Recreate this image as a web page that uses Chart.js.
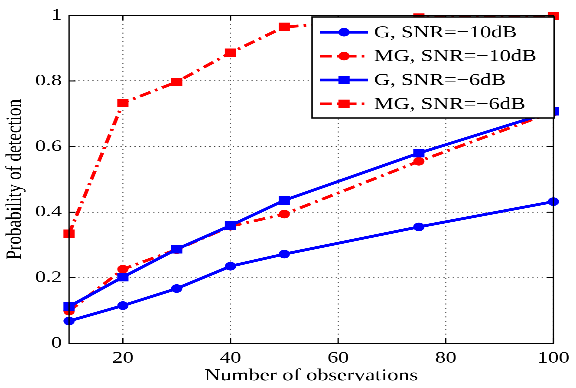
<!DOCTYPE html>
<html>
<head>
<meta charset="utf-8">
<script src="https://cdn.jsdelivr.net/npm/chart.js@4.4.1/dist/chart.umd.min.js"></script>
<style>
  html, body { margin: 0; padding: 0; background: #fff; overflow: hidden; }
  /* the figure is laid out narrow and widened horizontally */
  #frame { position: absolute; left: 0; top: 0; width: 443px; height: 388px;
           transform: scaleX(1.3002); transform-origin: 0 0; }
</style>
</head>
<body>
<div id="frame"><canvas id="pd"></canvas></div>
<script>
// Number of observations on the x axis
const observations = [10, 20, 30, 40, 50, 75, 100];

// Probability of detection for each detector / SNR
const gSnrM10  = [0.068, 0.115, 0.167, 0.235, 0.272, 0.355, 0.432];
const mgSnrM10 = [0.098, 0.226, 0.286, 0.357, 0.394, 0.555, 0.706];
const gSnrM6   = [0.112, 0.202, 0.287, 0.359, 0.436, 0.580, 0.708];
const mgSnrM6  = [0.334, 0.733, 0.797, 0.886, 0.965, 0.993, 0.998];

const seriesNames = ['G, SNR=\u221210dB', 'MG, SNR=\u221210dB', 'G, SNR=\u22126dB', 'MG, SNR=\u22126dB'];

const xTicks = [20, 40, 60, 80, 100];
const yTicks = [0, 0.2, 0.4, 0.6, 0.8, 1];
const yTickLabels = ['0', '0.2', '0.4', '0.6', '0.8', '1'];

const SERIF = '"Liberation Serif", "Times New Roman", serif';
const BLUE = '#0000ff';
const RED = '#ff0000';
const DASHDOT = [9, 4, 2, 4];

function series(label, values, color, style, dashed, order) {
  return {
    label,
    data: observations.map((o, i) => ({ x: o, y: values[i] })),
    borderColor: color,
    backgroundColor: color,
    borderWidth: 2.8,
    borderDash: dashed ? DASHDOT : [],
    pointStyle: style,
    pointRadius: style === 'rect' ? 5.4 : 3.8,
    pointHoverRadius: style === 'rect' ? 5.4 : 3.8,
    pointBackgroundColor: color,
    pointBorderColor: color,
    pointBorderWidth: 1,
    tension: 0,
    clip: false,
    order
  };
}

const datasets = [
  series(seriesNames[0], gSnrM10,  BLUE, 'circle', false, 4),
  series(seriesNames[1], mgSnrM10, RED,  'circle', true,  3),
  series(seriesNames[2], gSnrM6,   BLUE, 'rect',   false, 2),
  series(seriesNames[3], mgSnrM6,  RED,  'rect',   true,  1)
];

// Box frame, inward tick marks and the boxed legend in the upper right
const frameAndLegend = {
  id: 'frameAndLegend',
  afterDraw(chart) {
    const { ctx, chartArea: { left, right, top, bottom }, scales: { x, y } } = chart;
    ctx.save();
    ctx.strokeStyle = '#000';
    ctx.lineWidth = 1;
    ctx.setLineDash([]);
    const seg = (x1, y1, x2, y2) => { ctx.beginPath(); ctx.moveTo(x1, y1); ctx.lineTo(x2, y2); ctx.stroke(); };
    const T = 5;
    xTicks.forEach(v => { const p = x.getPixelForValue(v); seg(p, bottom, p, bottom - T); seg(p, top, p, top + T); });
    yTicks.forEach(v => { const p = y.getPixelForValue(v); seg(left, p, left + T, p); seg(right, p, right - T, p); });
    ctx.strokeRect(left, top, right - left, bottom - top);

    // legend
    const bx = 240, by = 17, bw = 186.2, bh = 101;
    ctx.fillStyle = '#fff';
    ctx.fillRect(bx, by, bw, bh);
    ctx.lineWidth = 1.2;
    ctx.strokeRect(bx, by, bw, bh);
    const x1 = 246.2, x2 = 283, xm = (x1 + x2) / 2, xt = 287.7;
    ctx.font = '17px ' + SERIF;
    ctx.textBaseline = 'middle';
    ctx.textAlign = 'left';
    chart.data.datasets.forEach((ds, i) => {
      const ry = 32.2 + i * 23.9;
      ctx.strokeStyle = ds.borderColor;
      ctx.lineWidth = ds.borderWidth;
      ctx.setLineDash(ds.borderDash);
      seg(x1, ry, x2, ry);
      ctx.setLineDash([]);
      ctx.fillStyle = ds.borderColor;
      ctx.lineWidth = 1;
      Chart.helpers.drawPoint(ctx, { pointStyle: ds.pointStyle, radius: ds.pointRadius, borderWidth: 1, rotation: 0 }, xm, ry);
      ctx.fill();
      ctx.fillStyle = '#000';
      ctx.fillText(ds.label, xt, ry + 0.5);
    });
    ctx.restore();
  }
};

new Chart(document.getElementById('pd'), {
  type: 'line',
  data: { datasets },
  options: {
    responsive: true,
    maintainAspectRatio: false,
    animation: false,
    devicePixelRatio: 3,
    layout: { padding: { left: 0, right: 12.8, top: 10, bottom: 0 } },
    plugins: { legend: { display: false }, tooltip: { enabled: false } },
    scales: {
      x: {
        type: 'linear',
        min: 10, max: 100,
        afterBuildTicks: s => { s.ticks = xTicks.map(v => ({ value: v })); },
        afterFit: s => { s.height = 44.7; },
        grid: { display: true, color: 'rgba(0,0,0,0.75)', lineWidth: 0.8, drawTicks: false },
        border: { display: false, dash: [1, 3.3] },
        ticks: { color: '#000', font: { family: SERIF, size: 16.5 }, padding: 5, maxRotation: 0, autoSkip: false },
        title: { display: true, text: 'Number of observations', color: '#000',
                 font: { family: SERIF, size: 17 }, padding: { top: 0, bottom: 1.8 } }
      },
      y: {
        type: 'linear',
        min: 0, max: 1,
        afterBuildTicks: s => { s.ticks = yTicks.map(v => ({ value: v })); },
        afterFit: s => { s.width = 53.1; },
        grid: { display: true, color: 'rgba(0,0,0,0.75)', lineWidth: 0.8, drawTicks: false },
        border: { display: false, dash: [1, 2.6] },
        ticks: { color: '#000', font: { family: SERIF, size: 16.5 }, padding: 5.5,
                 callback: (v) => yTickLabels[yTicks.indexOf(v)] ?? '' },
        title: { display: true, text: 'Probability of detection', color: '#000',
                 font: { family: SERIF, size: 17 }, padding: { top: 1.3, bottom: 0 } }
      }
    }
  },
  plugins: [frameAndLegend]
});
</script>
</body>
</html>
